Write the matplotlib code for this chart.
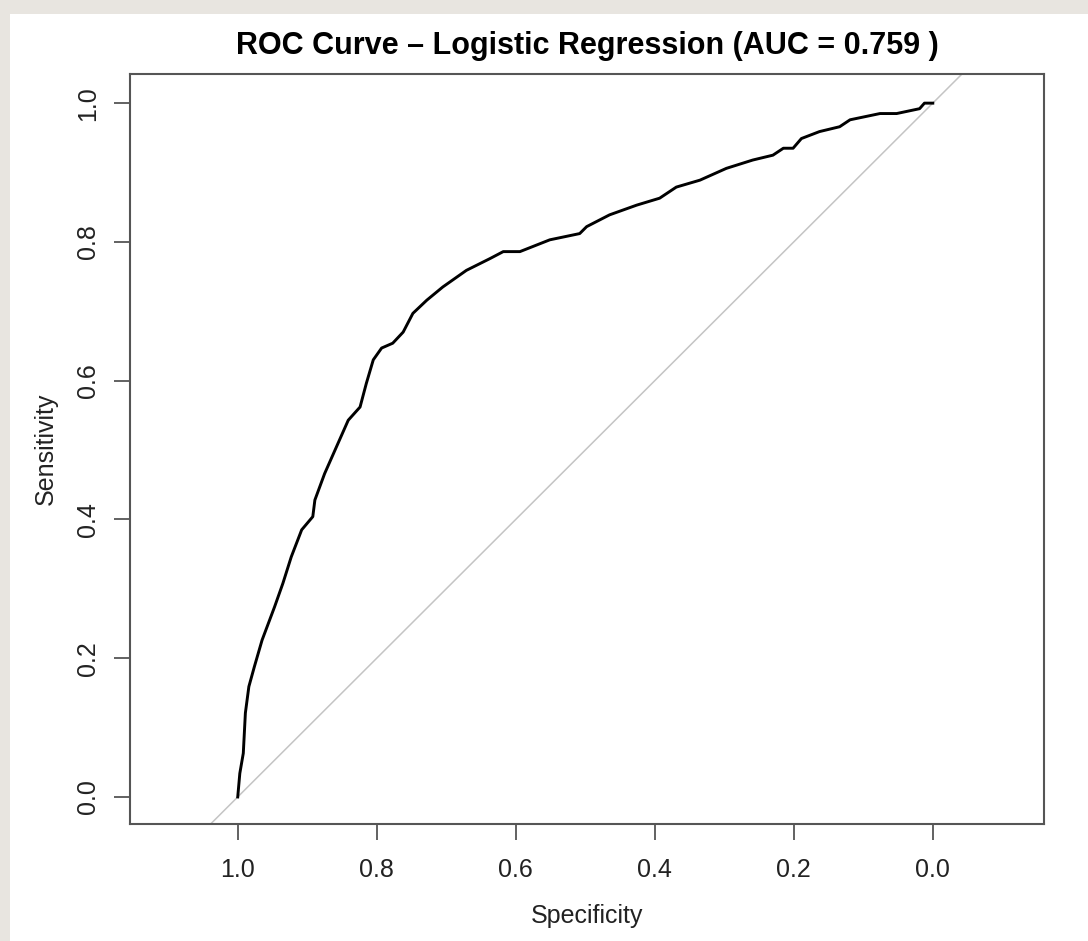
import numpy as np
import matplotlib.pyplot as plt
from matplotlib.patches import Rectangle

plt.rcParams['font.family'] = ['Liberation Sans', 'DejaVu Sans']

# ROC tocke ocitane sa slike
specificity = [1.000, 0.997, 0.992, 0.989, 0.984, 0.976, 0.965, 0.947, 0.935, 0.923,
               0.908, 0.892, 0.889, 0.875, 0.860, 0.841, 0.824, 0.815, 0.805, 0.793,
               0.777, 0.762, 0.748, 0.728, 0.705, 0.671, 0.637, 0.618, 0.594, 0.551,
               0.508, 0.498, 0.465, 0.426, 0.393, 0.369, 0.335, 0.297, 0.259, 0.230,
               0.215, 0.201, 0.189, 0.163, 0.134, 0.119, 0.076, 0.052, 0.019, 0.012,
               0.000]
sensitivity = [0.000, 0.034, 0.063, 0.121, 0.159, 0.188, 0.226, 0.274, 0.308, 0.346,
               0.385, 0.404, 0.428, 0.466, 0.500, 0.543, 0.562, 0.596, 0.630, 0.647,
               0.654, 0.670, 0.697, 0.716, 0.735, 0.759, 0.776, 0.786, 0.786, 0.803,
               0.812, 0.822, 0.839, 0.853, 0.863, 0.879, 0.889, 0.906, 0.918, 0.925,
               0.935, 0.935, 0.949, 0.959, 0.966, 0.976, 0.985, 0.985, 0.992, 1.000,
               1.000]
auc = 0.759
tick_vals = [0.0, 0.2, 0.4, 0.6, 0.8, 1.0]
tick_labels = ['0.0', '0.2', '0.4', '0.6', '0.8', '1.0']

fig = plt.figure(figsize=(10.88, 9.41), dpi=100)
fig.patch.set_facecolor('#e8e5e0')
fig.patches.append(Rectangle((10 / 1088, 0), 1, 1 - 14 / 941, transform=fig.transFigure,
                             facecolor='white', edgecolor='none', zorder=-5))

ax = fig.add_axes([130 / 1088, 1 - 824 / 941, (1044 - 130) / 1088, (824 - 74) / 941])
ax.set_zorder(2)
ax.set_facecolor('white')

ax.axline((1, 0), (0, 1), color='#c4c4c4', linewidth=1.1, zorder=1)
ax.plot(specificity, sensitivity, color='black', linewidth=2.1, zorder=2)

ax.set_xlim(1.155, -0.160)
ax.set_ylim(-0.039, 1.042)

ax.set_xticks(tick_vals)
ax.set_xticklabels(tick_labels)
ax.set_yticks(tick_vals)
ax.set_yticklabels(tick_labels, rotation=90, va='center')
ax.tick_params(axis='both', length=11.5, width=1.3, color='#555555', labelsize=18,
               labelcolor='#222222')
ax.tick_params(axis='x', pad=13)
ax.tick_params(axis='y', pad=10)
for s in ax.spines.values():
    s.set_color('#555555')
    s.set_linewidth(1.5)

ax.set_xlabel('Specificity', fontsize=18, color='#222222', labelpad=16)
ax.set_ylabel('Sensitivity', fontsize=18, color='#222222', labelpad=13)
ax.set_title(f'ROC Curve \u2013 Logistic Regression (AUC = {auc} )', fontsize=22,
             fontweight='bold', pad=14.5)

plt.savefig('out.png', dpi=100, facecolor=fig.get_facecolor())
